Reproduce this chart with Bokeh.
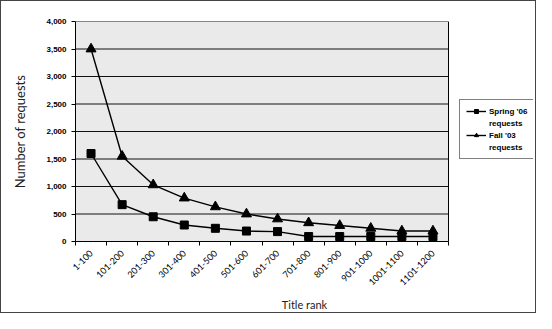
from bokeh.plotting import figure
from bokeh.models import (ColumnDataSource, FixedTicker, NumeralTickFormatter, Legend,
                          LegendItem, Range1d, BoxAnnotation)
from bokeh.embed import file_html
from bokeh.resources import INLINE
import math

categories = ["1-100", "101-200", "201-300", "301-400", "401-500", "501-600",
              "601-700", "701-800", "801-900", "901-1000", "1001-1100", "1101-1200"]
spring06 = [1600, 670, 450, 300, 240, 190, 180, 90, 90, 90, 90, 90]
fall03 = [3500, 1550, 1030, 790, 630, 500, 410, 340, 290, 240, 190, 190]
y_ticks = [0, 500, 1000, 1500, 2000, 2500, 3000, 3500, 4000]

n = len(categories)
xs = [i + 0.5 for i in range(n)]
src = ColumnDataSource(dict(x=xs, spring=spring06, fall=fall03))

# frame extends to the right to host the legend; the data area is 0..n
W, H = 536, 313
left_b, right_b, top_b, bot_b = 74, 4, 20, 72
frame_w = W - left_b - right_b
data_w = 373
x_max = n * frame_w / data_w

p = figure(width=W, height=H, output_backend="svg", toolbar_location=None,
           x_range=Range1d(0, x_max), y_range=Range1d(0, y_ticks[-1]),
           min_border_left=left_b, min_border_right=right_b,
           min_border_top=top_b, min_border_bottom=bot_b,
           background_fill_color="white", border_fill_color="white",
           outline_line_color=None,
           styles={"border": "1px solid #444", "box-sizing": "border-box"})

p.add_layout(BoxAnnotation(left=0, right=n, bottom=0, top=y_ticks[-1],
                           fill_color="#eaeaea", fill_alpha=1,
                           line_color=None, level="image"))

p.xgrid.visible = False
p.ygrid.visible = False
p.segment(x0=0, x1=n, y0=y_ticks, y1=y_ticks, line_color="#111111", line_width=1,
          level="underlay")
p.segment(x0=n, x1=n, y0=0, y1=y_ticks[-1], line_color="black", line_width=1,
          level="underlay")

p.yaxis.ticker = FixedTicker(ticks=y_ticks)
p.yaxis.formatter = NumeralTickFormatter(format="0,0")
p.yaxis.axis_label = "Number of requests"
p.yaxis.axis_label_text_font = "Lato"
p.yaxis.axis_label_text_font_style = "normal"
p.yaxis.axis_label_text_font_size = "13px"
p.yaxis.axis_label_text_color = "#222222"
p.yaxis.axis_label_standoff = 15
p.yaxis.major_label_text_font = "Liberation Sans"
p.yaxis.major_label_text_font_style = "bold"
p.yaxis.major_label_text_font_size = "8px"
p.yaxis.major_label_text_color = "black"
p.yaxis.major_tick_out = 4
p.yaxis.major_tick_in = 0
p.yaxis.minor_tick_line_color = None
p.yaxis.axis_line_color = "black"

p.xaxis.bounds = (0, n)
p.xaxis.ticker = FixedTicker(ticks=xs, minor_ticks=list(range(n + 1)))
p.xaxis.major_label_overrides = {x: c for x, c in zip(xs, categories)}
p.xaxis.major_label_orientation = math.pi / 4
p.xaxis.major_label_text_font = "Lato"
p.xaxis.major_label_text_font_size = "9px"
p.xaxis.major_label_text_color = "black"
p.xaxis.major_label_standoff = 6
p.xaxis.major_tick_out = 0
p.xaxis.major_tick_in = 0
p.xaxis.minor_tick_out = 4
p.xaxis.minor_tick_in = 0
p.xaxis.minor_tick_line_color = "black"
p.xaxis.axis_line_color = "black"
p.xaxis.axis_label = "Title rank"
p.xaxis.axis_label_text_font = "Lato"
p.xaxis.axis_label_text_font_style = "normal"
p.xaxis.axis_label_text_font_size = "11px"
p.xaxis.axis_label_text_color = "#222222"
p.xaxis.axis_label_standoff = 7

l1 = p.line("x", "spring", source=src, line_color="black", line_width=1.4)
s1 = p.scatter("x", "spring", source=src, marker="square", size=8, color="black")
l2 = p.line("x", "fall", source=src, line_color="black", line_width=1.4)
s2 = p.scatter("x", "fall", source=src, marker="triangle", size=10, color="black")
blank = p.line(x=[], y=[], line_alpha=0)

legend = Legend(items=[LegendItem(label="Spring '06", renderers=[l1, s1]),
                       LegendItem(label="requests", renderers=[blank]),
                       LegendItem(label="Fall '03", renderers=[l2, s2]),
                       LegendItem(label="requests", renderers=[blank])],
                location=(384, 82), border_line_color="black", border_line_width=1,
                background_fill_color="white", background_fill_alpha=1,
                label_text_font="Liberation Sans",
                label_text_font_style="bold", label_text_font_size="8px",
                label_text_color="black", label_height=10,
                glyph_width=20, glyph_height=10, spacing=2, padding=6, margin=0,
                label_standoff=3)
p.add_layout(legend, "center")

open("out.html", "w").write(file_html(p, INLINE))
